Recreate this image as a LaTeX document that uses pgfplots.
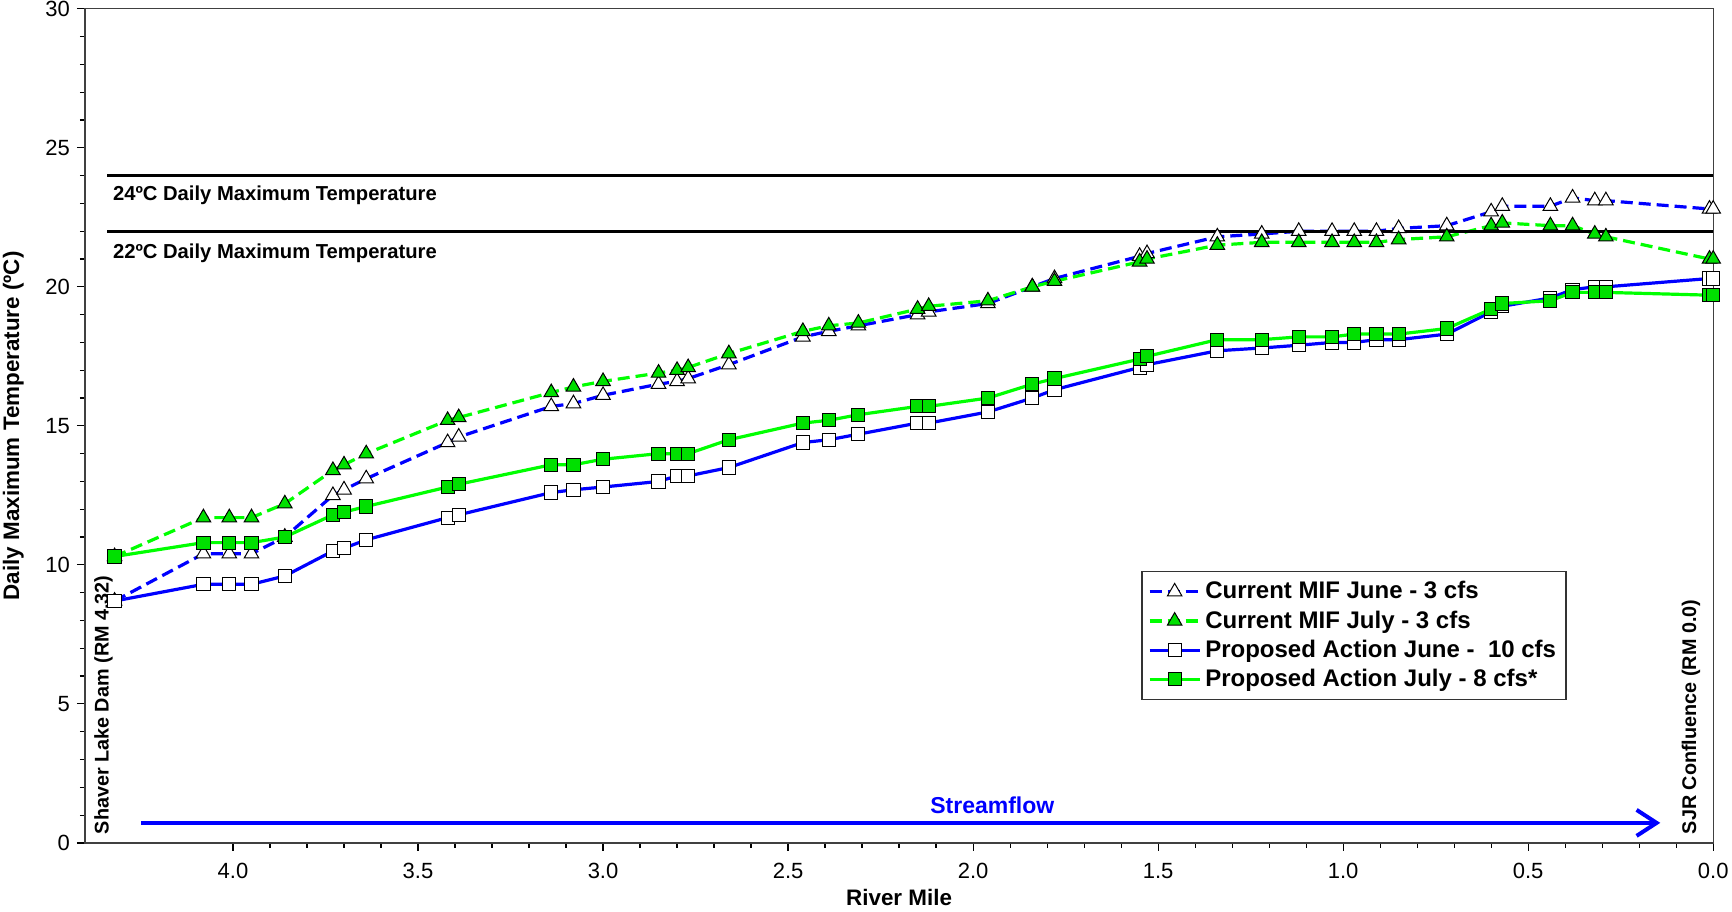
\documentclass[border=0pt]{standalone}
\usepackage{fontspec}
\setmainfont{Liberation Sans}
\usepackage{pgfplots}
\usepackage{pgfplotstable}
\pgfplotsset{compat=1.18}
\usetikzlibrary{arrows.meta}

\definecolor{myblue}{RGB}{0,0,255}
\definecolor{mygreen}{RGB}{0,255,0}
\definecolor{mygreenfill}{RGB}{0,224,0}

\pgfplotstableread{
x    a    b    c    d
4.32 8.7  10.3 8.7  10.3
4.08 10.4 11.7 9.3  10.8
4.01 10.4 11.7 9.3  10.8
3.95 10.4 11.7 9.3  10.8
3.86 11.0 12.2 9.6  11.0
3.73 12.5 13.4 10.5 11.8
3.70 12.7 13.6 10.6 11.9
3.64 13.1 14.0 10.9 12.1
3.42 14.4 15.2 11.7 12.8
3.39 14.6 15.3 11.8 12.9
3.14 15.7 16.2 12.6 13.6
3.08 15.8 16.4 12.7 13.6
3.00 16.1 16.6 12.8 13.8
2.85 16.5 16.9 13.0 14.0
2.80 16.6 17.0 13.2 14.0
2.77 16.7 17.1 13.2 14.0
2.66 17.2 17.6 13.5 14.5
2.46 18.2 18.4 14.4 15.1
2.39 18.4 18.6 14.5 15.2
2.31 18.6 18.7 14.7 15.4
2.15 19.0 19.2 15.1 15.7
2.12 19.1 19.3 15.1 15.7
1.96 19.4 19.5 15.5 16.0
1.84 20.0 20.0 16.0 16.5
1.78 20.3 20.2 16.3 16.7
1.55 21.1 20.9 17.1 17.4
1.53 21.2 21.0 17.2 17.5
1.34 21.8 21.5 17.7 18.1
1.22 21.9 21.6 17.8 18.1
1.12 22.0 21.6 17.9 18.2
1.03 22.0 21.6 18.0 18.2
0.97 22.0 21.6 18.0 18.3
0.91 22.0 21.6 18.1 18.3
0.85 22.1 21.7 18.1 18.3
0.72 22.2 21.8 18.3 18.5
0.60 22.7 22.2 19.1 19.2
0.57 22.9 22.3 19.3 19.4
0.44 22.9 22.2 19.6 19.5
0.38 23.2 22.2 19.9 19.8
0.32 23.1 21.9 20.0 19.8
0.29 23.1 21.8 20.0 19.8
0.01 22.8 21.0 20.3 19.7
0.00 22.8 21.0 20.3 19.7
}\datatable

\begin{document}
\begin{tikzpicture}
\begin{axis}[
  scale only axis,
  width=814pt, height=417pt,
  x dir=reverse,
  xmin=0, xmax=4.4, ymin=0, ymax=30,
  xtick={0,0.5,1,1.5,2,2.5,3,3.5,4},
  ytick={0,5,10,15,20,25,30},
  minor x tick num=4,
  minor y tick num=4,
  xtick pos=left, ytick pos=left,
  tick align=outside,
  major tick length=4pt, minor tick length=2.5pt,
  tick style={black, line width=0.6pt},
  axis line style={black!75, line width=0.6pt},
  /pgf/number format/assume math mode=true,
  ticklabel style={font=\fontsize{11}{13}\selectfont},
  xticklabel style={yshift=-2.8pt, /pgf/number format/.cd, fixed, fixed zerofill, precision=1},
  yticklabel style={/pgf/number format/.cd, fixed, precision=0},
  xlabel={River Mile},
  ylabel={Daily Maximum Temperature (ºC)},
  label style={font=\bfseries\fontsize{11.2}{13}\selectfont},
  xlabel style={at={(axis description cs:0.5,-0.066)}, anchor=center},
  ylabel style={at={(axis description cs:-0.044,0.5)}, anchor=center},
  legend style={at={(0.91,0.326)}, anchor=north east,
    font=\bfseries\fontsize{12}{13.8}\selectfont,
    draw=black!80, line width=0.6pt, inner xsep=3pt, inner ysep=3pt,
    row sep=0.4pt, cells={anchor=west}},
  legend image code/.code={
    \draw[mark repeat=2, mark phase=2, #1] plot coordinates {(0pt,0pt) (12.5pt,0pt) (25pt,0pt)};
  },
  every axis plot/.append style={line width=1.6pt},
]
\addplot[myblue, dash pattern=on 6pt off 3pt, mark=triangle*, mark size=4.2pt,
  mark options={solid, fill=white, draw=black, line width=0.5pt}]
  table[x=x, y=a] {\datatable};
\addlegendentry{Current MIF June - 3 cfs}
\addplot[mygreen, dash pattern=on 6pt off 3pt, mark=triangle*, mark size=4.2pt,
  mark options={solid, fill=mygreenfill, draw=black, line width=0.5pt}]
  table[x=x, y=b] {\datatable};
\addlegendentry{Current MIF July - 3 cfs}
\addplot[myblue, solid, mark=square*, mark size=3.3pt,
  mark options={solid, fill=white, draw=black, line width=0.5pt}]
  table[x=x, y=c] {\datatable};
\addlegendentry{Proposed Action June -\ \ 10 cfs}
\addplot[mygreen, solid, mark=square*, mark size=3.3pt,
  mark options={solid, fill=mygreenfill, draw=black, line width=0.5pt}]
  table[x=x, y=d] {\datatable};
\addlegendentry{Proposed Action July - 8 cfs*}

\draw[black, line width=1.6pt] (axis cs:4.34,24) -- (axis cs:0,24);
\draw[black, line width=1.6pt] (axis cs:4.34,22) -- (axis cs:0,22);
\node[anchor=west, inner sep=0pt, font=\bfseries\fontsize{10.1}{12}\selectfont] at (axis cs:4.325,23.3) {24ºC Daily Maximum Temperature};
\node[anchor=west, inner sep=0pt, font=\bfseries\fontsize{10.1}{12}\selectfont] at (axis cs:4.325,21.2) {22ºC Daily Maximum Temperature};

\node[anchor=west, rotate=90, inner sep=0pt, font=\bfseries\fontsize{9.9}{12}\selectfont] at (axis cs:4.35,0.3) {Shaver Lake Dam (RM 4.32)};
\node[anchor=west, rotate=90, inner sep=0pt, font=\bfseries\fontsize{9.9}{12}\selectfont] at (axis cs:0.06,0.3) {SJR Confluence (RM 0.0)};

\draw[myblue, line width=2pt, -{Straight Barb[length=10pt, width=13pt, line width=2pt]}] (axis cs:4.248,0.72) -- (axis cs:0.143,0.72);
\node[myblue, inner sep=0pt, font=\bfseries\fontsize{11.5}{13}\selectfont] at (axis cs:1.948,1.35) {Streamflow};
\end{axis}
\pgfresetboundingbox
\path[use as bounding box] ([xshift=-42.5pt,yshift=-34.1pt]current axis.south west) rectangle ([xshift=9.4pt,yshift=4.4pt]current axis.north east);
\end{tikzpicture}
\end{document}
